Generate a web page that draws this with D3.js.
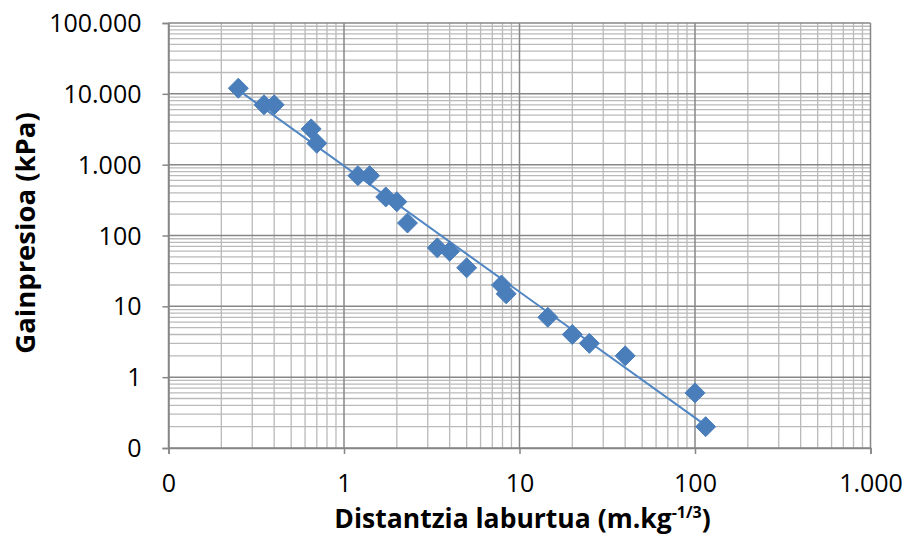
<!DOCTYPE html>
<html>
<head>
<meta charset="utf-8">
<script src="https://cdn.jsdelivr.net/npm/d3@7"></script>
<style>
  body { margin: 0; background: #fff; }
  text { font-family: "Open Sans", "Noto Sans", sans-serif; fill: #000; }
</style>
</head>
<body>
<div id="chart"></div>
<script>
// Chart size
var width = 906;
var height = 536;
var margin = {top: 23, right: 35.5, bottom: 88, left: 168.5};

// Data
var distance = [0.25, 0.35, 0.4, 0.65, 0.7, 1.2, 1.4, 1.73, 2.0, 2.3, 3.4, 4.0, 5.0, 7.9, 8.4, 14.5, 20, 25, 40, 100, 115];
var pressure = [12000, 7000, 7000, 3200, 2000, 700, 700, 350, 300, 150, 67, 60, 35, 20, 15, 7, 4, 3, 2, 0.6, 0.2];

// Tick values and labels
var xTicks = [0.1, 1, 10, 100, 1000];
var xTickLabels = ["0", "1", "10", "100", "1.000"];
var yTicks = [0.1, 1, 10, 100, 1000, 10000, 100000];
var yTickLabels = ["0", "1", "10", "100", "1.000", "10.000", "100.000"];

var points = distance.map(function(d, i) { return {x: d, y: pressure[i]}; });

var svg = d3.select("#chart").append("svg")
    .attr("width", width)
    .attr("height", height);

var plotW = width - margin.left - margin.right;
var plotH = height - margin.top - margin.bottom;

var x = d3.scaleLog().domain([0.1, 1000]).range([0, plotW]);
var y = d3.scaleLog().domain([0.1, 100000]).range([plotH, 0]);

var g = svg.append("g")
    .attr("transform", "translate(" + margin.left + "," + margin.top + ")");

// Minor grid values (2..9 in each decade)
function minors(domain) {
    var out = [];
    for (var p = Math.log10(domain[0]); p < Math.log10(domain[1]); p++) {
        for (var k = 2; k <= 9; k++) out.push(k * Math.pow(10, p));
    }
    return out;
}

// Minor grid
g.append("g").selectAll("line")
    .data(minors(x.domain()))
    .enter().append("line")
    .attr("x1", function(d) { return x(d); })
    .attr("x2", function(d) { return x(d); })
    .attr("y1", 0).attr("y2", plotH)
    .style("stroke", "#bababa").style("stroke-width", 1.3);

g.append("g").selectAll("line")
    .data(minors(y.domain()))
    .enter().append("line")
    .attr("y1", function(d) { return y(d); })
    .attr("y2", function(d) { return y(d); })
    .attr("x1", 0).attr("x2", plotW)
    .style("stroke", "#bababa").style("stroke-width", 1.3);

// Major grid
g.append("g").selectAll("line")
    .data(xTicks)
    .enter().append("line")
    .attr("x1", function(d) { return x(d); })
    .attr("x2", function(d) { return x(d); })
    .attr("y1", 0).attr("y2", plotH)
    .style("stroke", "#878787").style("stroke-width", 1.5);

g.append("g").selectAll("line")
    .data(yTicks)
    .enter().append("line")
    .attr("y1", function(d) { return y(d); })
    .attr("y2", function(d) { return y(d); })
    .attr("x1", 0).attr("x2", plotW)
    .style("stroke", "#878787").style("stroke-width", 1.5);

// Axes
var xAxis = d3.axisBottom(x)
    .tickValues(xTicks)
    .tickSize(6)
    .tickPadding(20)
    .tickFormat(function(d, i) { return xTickLabels[i]; });

var yAxis = d3.axisLeft(y)
    .tickValues(yTicks)
    .tickSize(6)
    .tickPadding(21)
    .tickFormat(function(d, i) { return yTickLabels[i]; });

var gx = g.append("g")
    .attr("transform", "translate(0," + plotH + ")")
    .call(xAxis);
var gy = g.append("g").call(yAxis);

[gx, gy].forEach(function(a) {
    a.select(".domain").style("stroke", "#868686").style("stroke-width", 1.5);
    a.selectAll(".tick line").style("stroke", "#868686").style("stroke-width", 1.5);
    a.selectAll(".tick text")
        .style("font-family", "'Open Sans', sans-serif")
        .style("font-size", "25px")
        .style("fill", "#000");
});
gy.selectAll(".tick text").attr("dy", "0.34em");

// Power trendline (least squares in log-log space)
var lx = points.map(function(d) { return Math.log10(d.x); });
var ly = points.map(function(d) { return Math.log10(d.y); });
var mx = d3.mean(lx), my = d3.mean(ly);
var slope = d3.sum(lx, function(v, i) { return (v - mx) * (ly[i] - my); }) /
            d3.sum(lx, function(v) { return (v - mx) * (v - mx); });
var icpt = my - slope * mx;
var xr = d3.extent(distance);
var trend = xr.map(function(v) { return {x: v, y: Math.pow(10, icpt + slope * Math.log10(v))}; });

g.append("path")
    .datum(trend)
    .attr("d", d3.line()
        .x(function(d) { return x(d.x); })
        .y(function(d) { return y(d.y); }))
    .style("fill", "none")
    .style("stroke", "#5086c4")
    .style("stroke-width", 2);

// Diamond markers
var s = 10;
g.append("g").selectAll("path")
    .data(points)
    .enter().append("path")
    .attr("transform", function(d) { return "translate(" + x(d.x) + "," + y(d.y) + ")"; })
    .attr("d", "M0," + (-s) + "L" + s + ",0L0," + s + "L" + (-s) + ",0Z")
    .style("fill", "#4a7ebb")
    .style("stroke", "#4a7ebb")
    .style("stroke-width", 1);

// Axis titles
var xt = svg.append("text")
    .attr("x", margin.left + plotW / 2 + 3)
    .attr("y", 528)
    .attr("text-anchor", "middle")
    .style("font-size", "26.5px")
    .style("font-weight", "bold");
xt.append("tspan").text("Distantzia laburtua (m.kg");
xt.append("tspan").attr("dy", -10).style("font-size", "16px").text("-1/3");
xt.append("tspan").attr("dy", 10).text(")");

svg.append("text")
    .attr("transform", "translate(35," + 233 + ") rotate(-90)")
    .attr("text-anchor", "middle")
    .style("font-size", "27.5px")
    .style("font-weight", "bold")
    .text("Gainpresioa (kPa)");
</script>
</body>
</html>
